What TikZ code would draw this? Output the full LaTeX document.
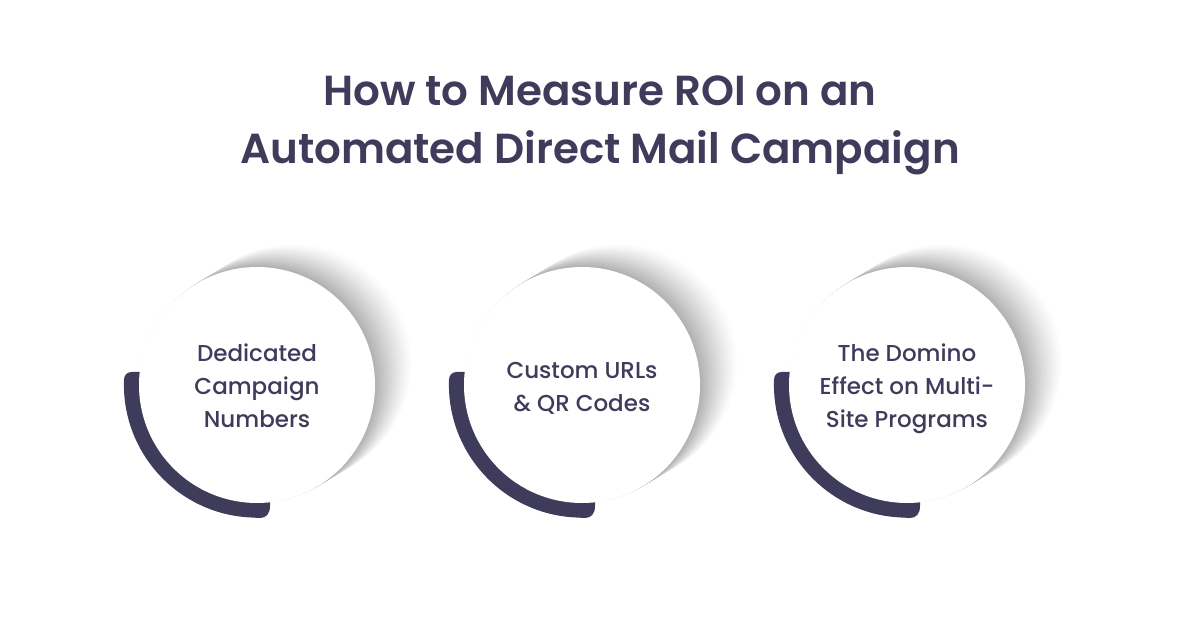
\documentclass[tikz,border=0pt]{standalone}
\usepackage{fontspec}
\setmainfont{Poppins}
\newfontfamily\titlefont{Poppins SemiBold}
\newfontfamily\labelfont{Poppins Medium}
\definecolor{ink}{HTML}{3F3B5B}
\tikzset{
  x=1pt,y=1pt,
  titletext/.style={text=ink,font=\titlefont\fontsize{42}{58}\selectfont,align=center,inner sep=0},
  disc/.style={circle,fill=white,minimum size=236pt,inner sep=0},
  labeltext/.style={text=ink,align=center,inner sep=0,font=\labelfont\fontsize{23}{33}\selectfont},
}
\begin{document}
\begin{tikzpicture}
\useasboundingbox (0,0) rectangle (1200,628);
\fill[white] (0,0) rectangle (1200,628);
\node[titletext] (title) at (600,503) {How to Measure ROI on an\\Automated Direct Mail Campaign};
\foreach \cx/\nm/\dy/\txt in {257/a/-1/{Dedicated\\Campaign\\Numbers},582/b/-3/{Custom URLs\\\& QR Codes},907/c/-4/{The Domino\\Effect on Multi-\\Site Programs}}{
  % soft shadow: shifted circles, darker toward the disc
  \foreach \t in {54,53,...,1}{
    \pgfmathsetmacro\g{100-31*(1-\t/54)^1.25}
    \fill[color=white!\g!black] ({\cx+38*\t/54},{243+23*\t/54}) circle (118);
  }
  % dark band with rounded ends
  \fill[ink] (\cx-110,256) -- (\cx-125,256)
     .. controls (\cx-130,256) and (\cx-133,253) .. (\cx-133,248)
     arc[start angle=178,end angle=268,radius=133]
     -- (\cx+3,110)
     .. controls (\cx+9,110) and (\cx+13,114) .. (\cx+13,122)
     -- (\cx+13,130) -- (\cx,130) -- cycle;
  \node[disc] (\nm) at (\cx,243) {};
  \node[labeltext] (\nm label) at (\cx,243+\dy) {\txt};
}
\end{tikzpicture}
\end{document}
